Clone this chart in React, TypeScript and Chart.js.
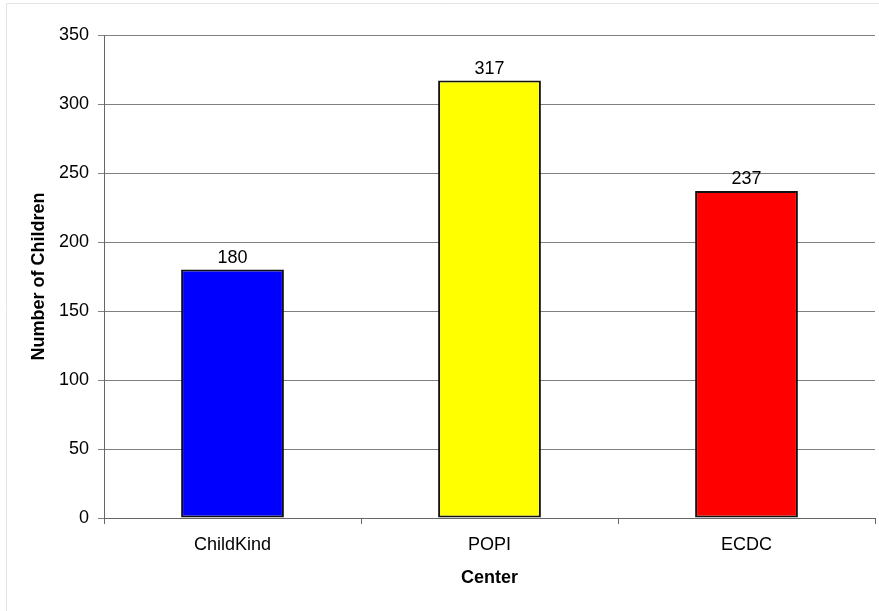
import React, { useEffect, useRef } from "react";
import { Chart, registerables } from "chart.js";

Chart.register(...registerables);

const categories = ["ChildKind", "POPI", "ECDC"];
const children = [180, 317, 237];
const barColors = ["#0000FF", "#FFFF00", "#FF0000"];
const yTickMax = 350;
const yTickStep = 50;

const FONT = "'Liberation Sans', Arial, sans-serif";

const valueLabels = {
  id: "valueLabels",
  afterDatasetsDraw(chart: any) {
    const { ctx } = chart;
    const meta = chart.getDatasetMeta(0);
    ctx.save();
    ctx.font = `18px ${FONT}`;
    ctx.fillStyle = "#000";
    ctx.textAlign = "center";
    ctx.textBaseline = "alphabetic";
    meta.data.forEach((bar: any, i: number) => {
      ctx.fillText(String(children[i]), bar.x, bar.y - 7);
    });
    ctx.restore();
  },
};

const frame = {
  id: "frame",
  beforeDraw(chart: any) {
    const { ctx, width, height } = chart;
    ctx.save();
    ctx.fillStyle = "#fff";
    ctx.fillRect(0, 0, width, height);
    ctx.strokeStyle = "#e4e4e4";
    ctx.lineWidth = 1;
    ctx.beginPath();
    ctx.moveTo(6.5, height);
    ctx.lineTo(6.5, 3.5);
    ctx.lineTo(width, 3.5);
    ctx.stroke();
    ctx.restore();
  },
};

export default function App() {
  const ref = useRef<HTMLCanvasElement | null>(null);
  useEffect(() => {
    if (!ref.current) return;
    const chart = new Chart(ref.current, {
      type: "bar",
      data: {
        labels: categories,
        datasets: [
          {
            data: children,
            backgroundColor: barColors,
            borderColor: "#111",
            borderWidth: 2,
            borderSkipped: false,
            barPercentage: 0.4,
            categoryPercentage: 1,
          },
        ],
      },
      options: {
        animation: false,
        responsive: false,
        maintainAspectRatio: false,
        layout: { padding: { top: 35, right: 4, left: 0, bottom: 0 } },
        plugins: { legend: { display: false }, tooltip: { enabled: false } },
        scales: {
          x: {
            afterFit: (s: any) => {
              s.height = 93;
            },
            grid: {
              offset: true,
              drawOnChartArea: false,
              drawTicks: true,
              tickLength: 6,
              color: "#666",
            },
            border: { color: "#666", width: 1 },
            ticks: { color: "#000", font: { family: FONT, size: 18 }, padding: 10 },
            title: {
              display: true,
              text: "Center",
              color: "#000",
              font: { family: FONT, size: 18, weight: "bold" },
              padding: { top: 0, bottom: 22 },
            },
          },
          y: {
            min: 0,
            max: yTickMax,
            afterFit: (s: any) => {
              s.width = 104;
            },
            grid: { color: "#808080", tickLength: 6 },
            border: { color: "#666", width: 1 },
            ticks: {
              stepSize: yTickStep,
              color: "#000",
              font: { family: FONT, size: 18 },
              padding: 9,
            },
            title: {
              display: true,
              text: "Number of Children",
              color: "#000",
              font: { family: FONT, size: 18, weight: "bold" },
              padding: { top: 28, bottom: 0 },
            },
          },
        },
      },
      plugins: [frame, valueLabels],
    });
    return () => chart.destroy();
  }, []);
  return (
    <div style={{ position: "fixed", left: 0, top: 0, width: 879, height: 611, background: "#fff" }}>
      <canvas ref={ref} width={879} height={611} style={{ width: 879, height: 611, display: "block" }} />
    </div>
  );
}
